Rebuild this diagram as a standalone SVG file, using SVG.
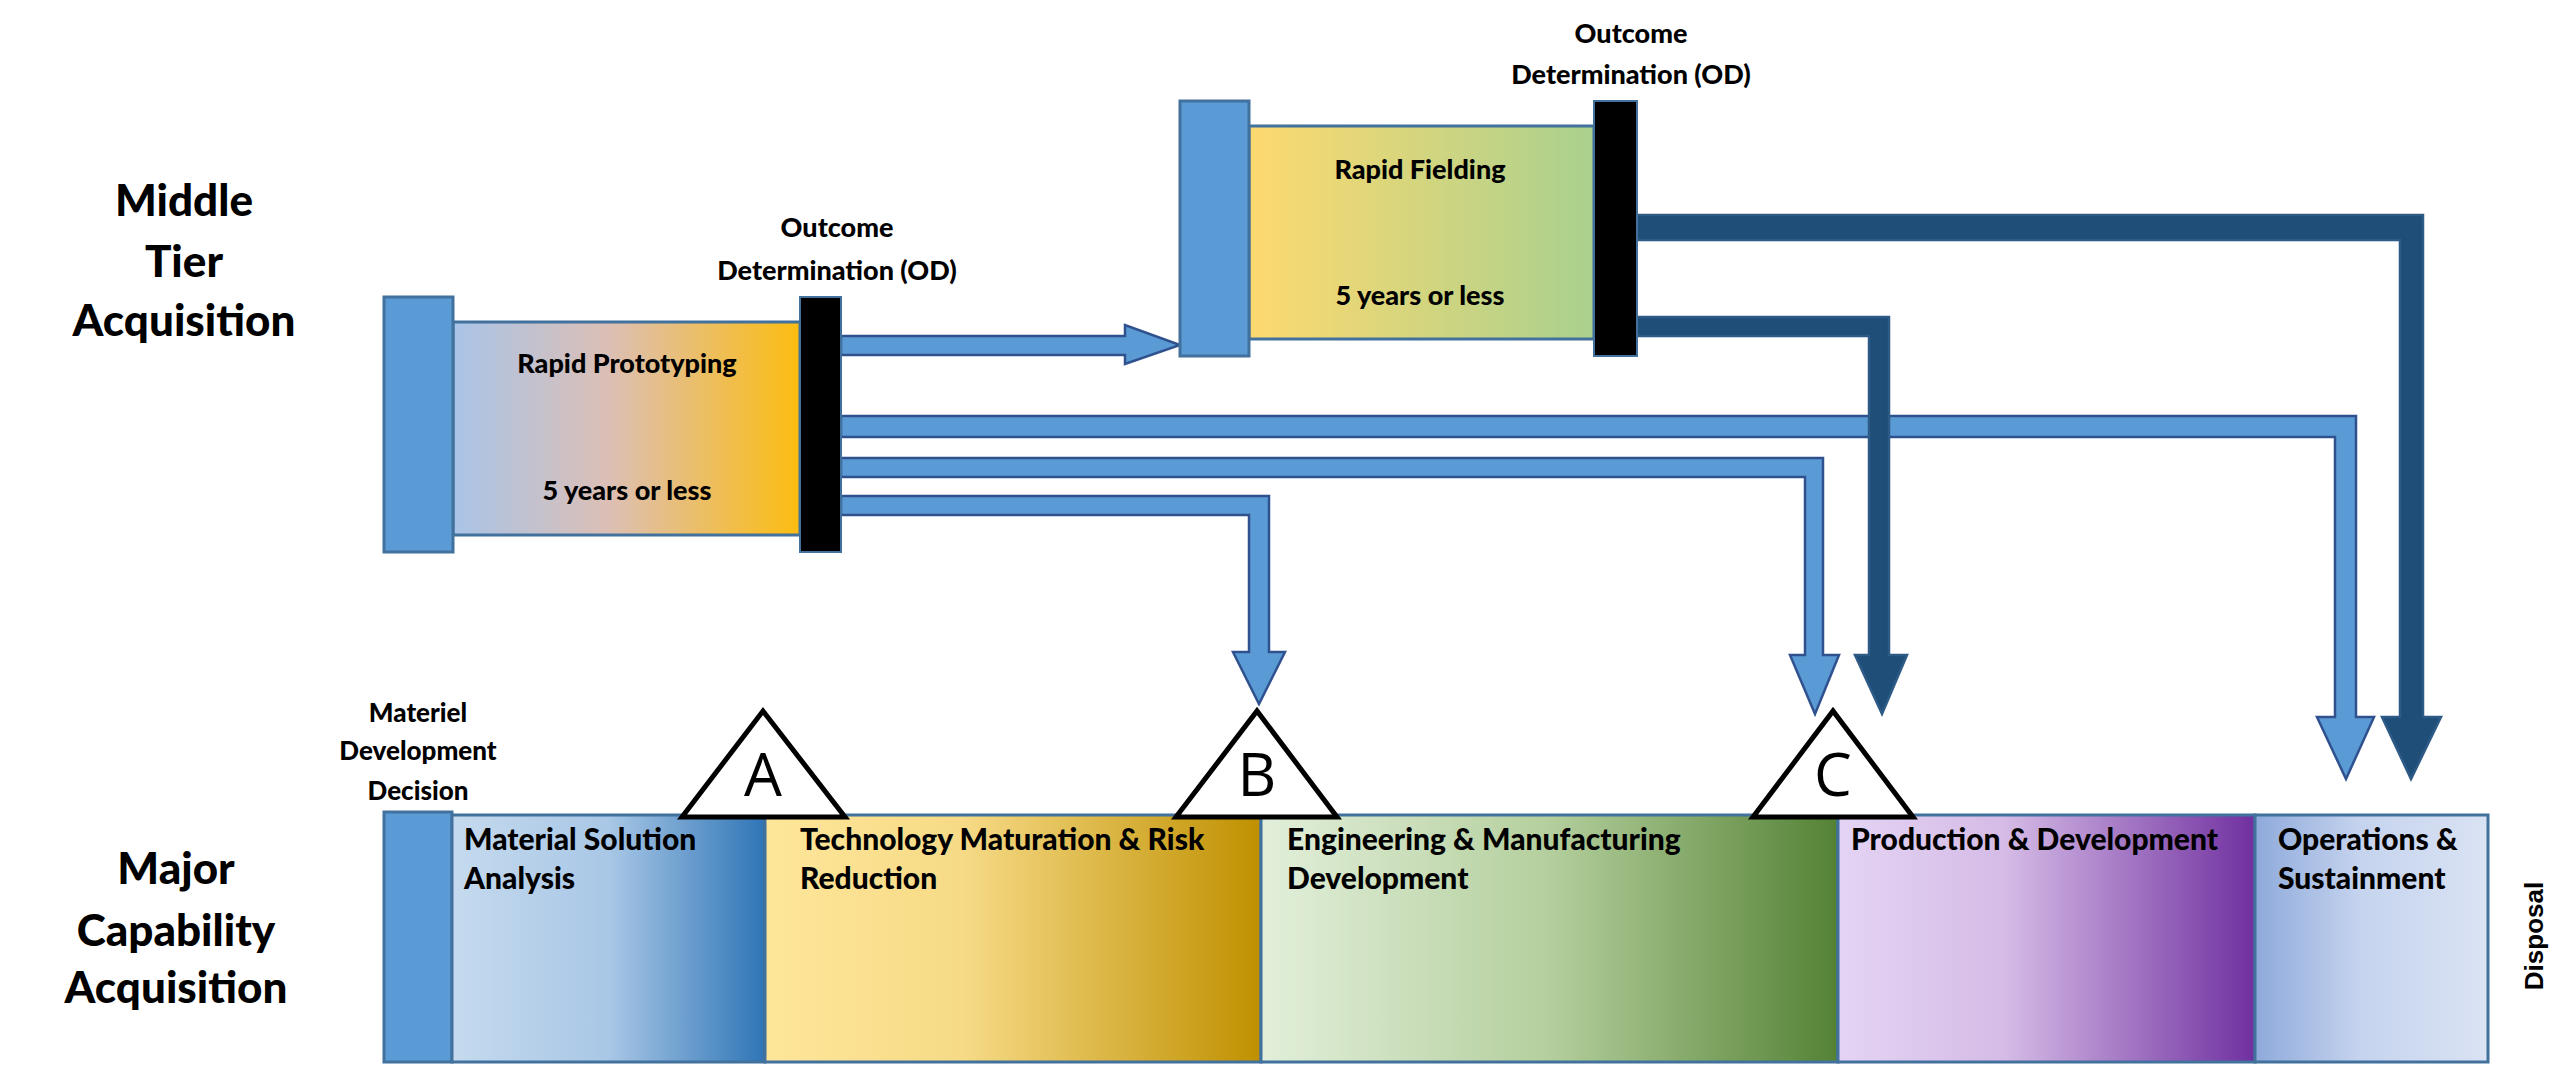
<svg xmlns="http://www.w3.org/2000/svg" width="2560" height="1073" viewBox="0 0 2560 1073">
<defs>
<linearGradient id="gRP"><stop offset="0" stop-color="#a9c4e8"/><stop offset="0.45" stop-color="#dcbfb5"/><stop offset="1" stop-color="#fcbd10"/></linearGradient>
<linearGradient id="gRF"><stop offset="0" stop-color="#fed96f"/><stop offset="1" stop-color="#a9d18e"/></linearGradient>
<linearGradient id="gMSA"><stop offset="0" stop-color="#c5daee"/><stop offset="0.5" stop-color="#a9c7e6"/><stop offset="1" stop-color="#2e75b6"/></linearGradient>
<linearGradient id="gTM"><stop offset="0" stop-color="#fee69a"/><stop offset="0.4" stop-color="#f6da86"/><stop offset="1" stop-color="#bf9000"/></linearGradient>
<linearGradient id="gEMD"><stop offset="0" stop-color="#e2efda"/><stop offset="0.5" stop-color="#b4cf9d"/><stop offset="1" stop-color="#548235"/></linearGradient>
<linearGradient id="gPD"><stop offset="0" stop-color="#e4d4f4"/><stop offset="0.4" stop-color="#d5bbe6"/><stop offset="1" stop-color="#7030a0"/></linearGradient>
<linearGradient id="gOS"><stop offset="0" stop-color="#8eaadb"/><stop offset="0.45" stop-color="#c5d3ee"/><stop offset="1" stop-color="#dae3f3"/></linearGradient>
</defs>
<style>
text{font-family:Lato,"Open Sans","Liberation Sans",sans-serif;font-weight:900;fill:#000}
.big{font-size:44px;text-anchor:middle}
.mid{font-size:27px}
.lab{font-size:30px}
.c{text-anchor:middle}
.bar{fill:#5b9bd5;stroke:#41719c;stroke-width:3}
.box{stroke:#41719c;stroke-width:3}
.od{fill:#000;stroke:#41719c;stroke-width:2}
.la{fill:#5b9bd5;stroke:#2f528f;stroke-width:2.5}
.da{fill:#1f4e79;stroke:#2e5a86;stroke-width:2.5}
.tri{fill:#fff;stroke:#000;stroke-width:5;stroke-linejoin:miter}
.let{font-family:"Open Sans","Liberation Sans",sans-serif;font-weight:normal;font-size:60px;text-anchor:middle}
</style>
<rect width="2560" height="1073" fill="#fff"/>

<g id="labels">
<text class="big" x="184" y="216">Middle</text>
<text class="big" x="184" y="277">Tier</text>
<text class="big" x="184" y="336">Acquisition</text>
<text class="big" x="176" y="884">Major</text>
<text class="big" x="176" y="946">Capability</text>
<text class="big" x="176" y="1003">Acquisition</text>
</g>

<g id="connectors">
<path class="la" d="M841,336 H1125 V325 L1180,345 L1125,364 V355 H841 Z"/>
<path class="la" d="M841,416 H2356 V717 H2374 L2346,779 L2317,717 H2335 V437 H841 Z"/>
<path class="la" d="M841,458 H1823 V655 H1839 L1815,714 L1790,655 H1805 V477 H841 Z"/>
<path class="la" d="M841,496 H1269 V652 H1285 L1259,704 L1233,652 H1249 V515 H841 Z"/>
<path class="da" d="M1637,215 H2423 V717 H2441 L2411,779 L2382,717 H2400 V240 H1637 Z"/>
<path class="da" d="M1637,317 H1889 V655 H1907 L1882,714 L1855,655 H1869 V336 H1637 Z"/>
</g>

<g id="rapid-prototyping">
<rect class="box" x="453" y="322" width="347" height="213" fill="url(#gRP)"/>
<rect class="bar" x="384" y="297" width="69" height="255"/>
<rect class="od" x="800" y="297" width="41" height="255"/>
<text class="mid c" x="627" y="373">Rapid Prototyping</text>
<text class="mid c" x="627" y="500">5 years or less</text>
<text class="mid c" x="837" y="237">Outcome</text>
<text class="mid c" x="837" y="280">Determination (OD)</text>
</g>

<g id="rapid-fielding">
<rect class="box" x="1249" y="126" width="345" height="213" fill="url(#gRF)"/>
<rect class="bar" x="1180" y="101" width="69" height="255"/>
<rect class="od" x="1594" y="101" width="43" height="255"/>
<text class="mid c" x="1420" y="179">Rapid Fielding</text>
<text class="mid c" x="1420" y="305">5 years or less</text>
<text class="mid c" x="1631" y="43">Outcome</text>
<text class="mid c" x="1631" y="84">Determination (OD)</text>
</g>

<g id="mdd">
<rect class="bar" x="384" y="812" width="68" height="250"/>
<text class="c" font-size="26" x="418" y="722">Materiel</text>
<text class="c" font-size="26" x="418" y="760">Development</text>
<text class="c" font-size="26" x="418" y="800">Decision</text>
</g>
<g id="msa">
<rect class="box" x="452" y="815" width="313" height="247" fill="url(#gMSA)"/>
<text class="lab" x="464" y="850">Material Solution</text>
<text class="lab" x="464" y="889">Analysis</text>
</g>
<g id="tmrr">
<rect class="box" x="765" y="815" width="496" height="247" fill="url(#gTM)"/>
<text class="lab" x="800" y="850">Technology Maturation &amp; Risk</text>
<text class="lab" x="800" y="889">Reduction</text>
</g>
<g id="emd">
<rect class="box" x="1261" y="815" width="577" height="247" fill="url(#gEMD)"/>
<text class="lab" x="1287" y="850">Engineering &amp; Manufacturing</text>
<text class="lab" x="1287" y="889">Development</text>
</g>
<g id="pd">
<rect class="box" x="1838" y="815" width="417" height="247" fill="url(#gPD)"/>
<text class="lab" x="1851" y="850">Production &amp; Development</text>
</g>
<g id="os">
<rect class="box" x="2255" y="815" width="233" height="247" fill="url(#gOS)"/>
<text class="lab" x="2278" y="850">Operations &amp;</text>
<text class="lab" x="2278" y="889">Sustainment</text>
</g>
<g id="disposal">
<text font-size="26" text-anchor="middle" transform="translate(2543,936) rotate(-90)" style="font-family:'Liberation Sans',sans-serif;font-weight:bold">Disposal</text>
</g>

<g id="milestone-a">
<path class="tri" d="M682,817 L763,711 L845,817 Z"/>
<text class="let" x="763" y="796">A</text>
</g>
<g id="milestone-b">
<path class="tri" d="M1176,817 L1257,711 L1337,817 Z"/>
<text class="let" x="1257" y="796">B</text>
</g>
<g id="milestone-c">
<path class="tri" d="M1753,817 L1833,711 L1913,817 Z"/>
<text class="let" x="1833" y="796">C</text>
</g>
</svg>
